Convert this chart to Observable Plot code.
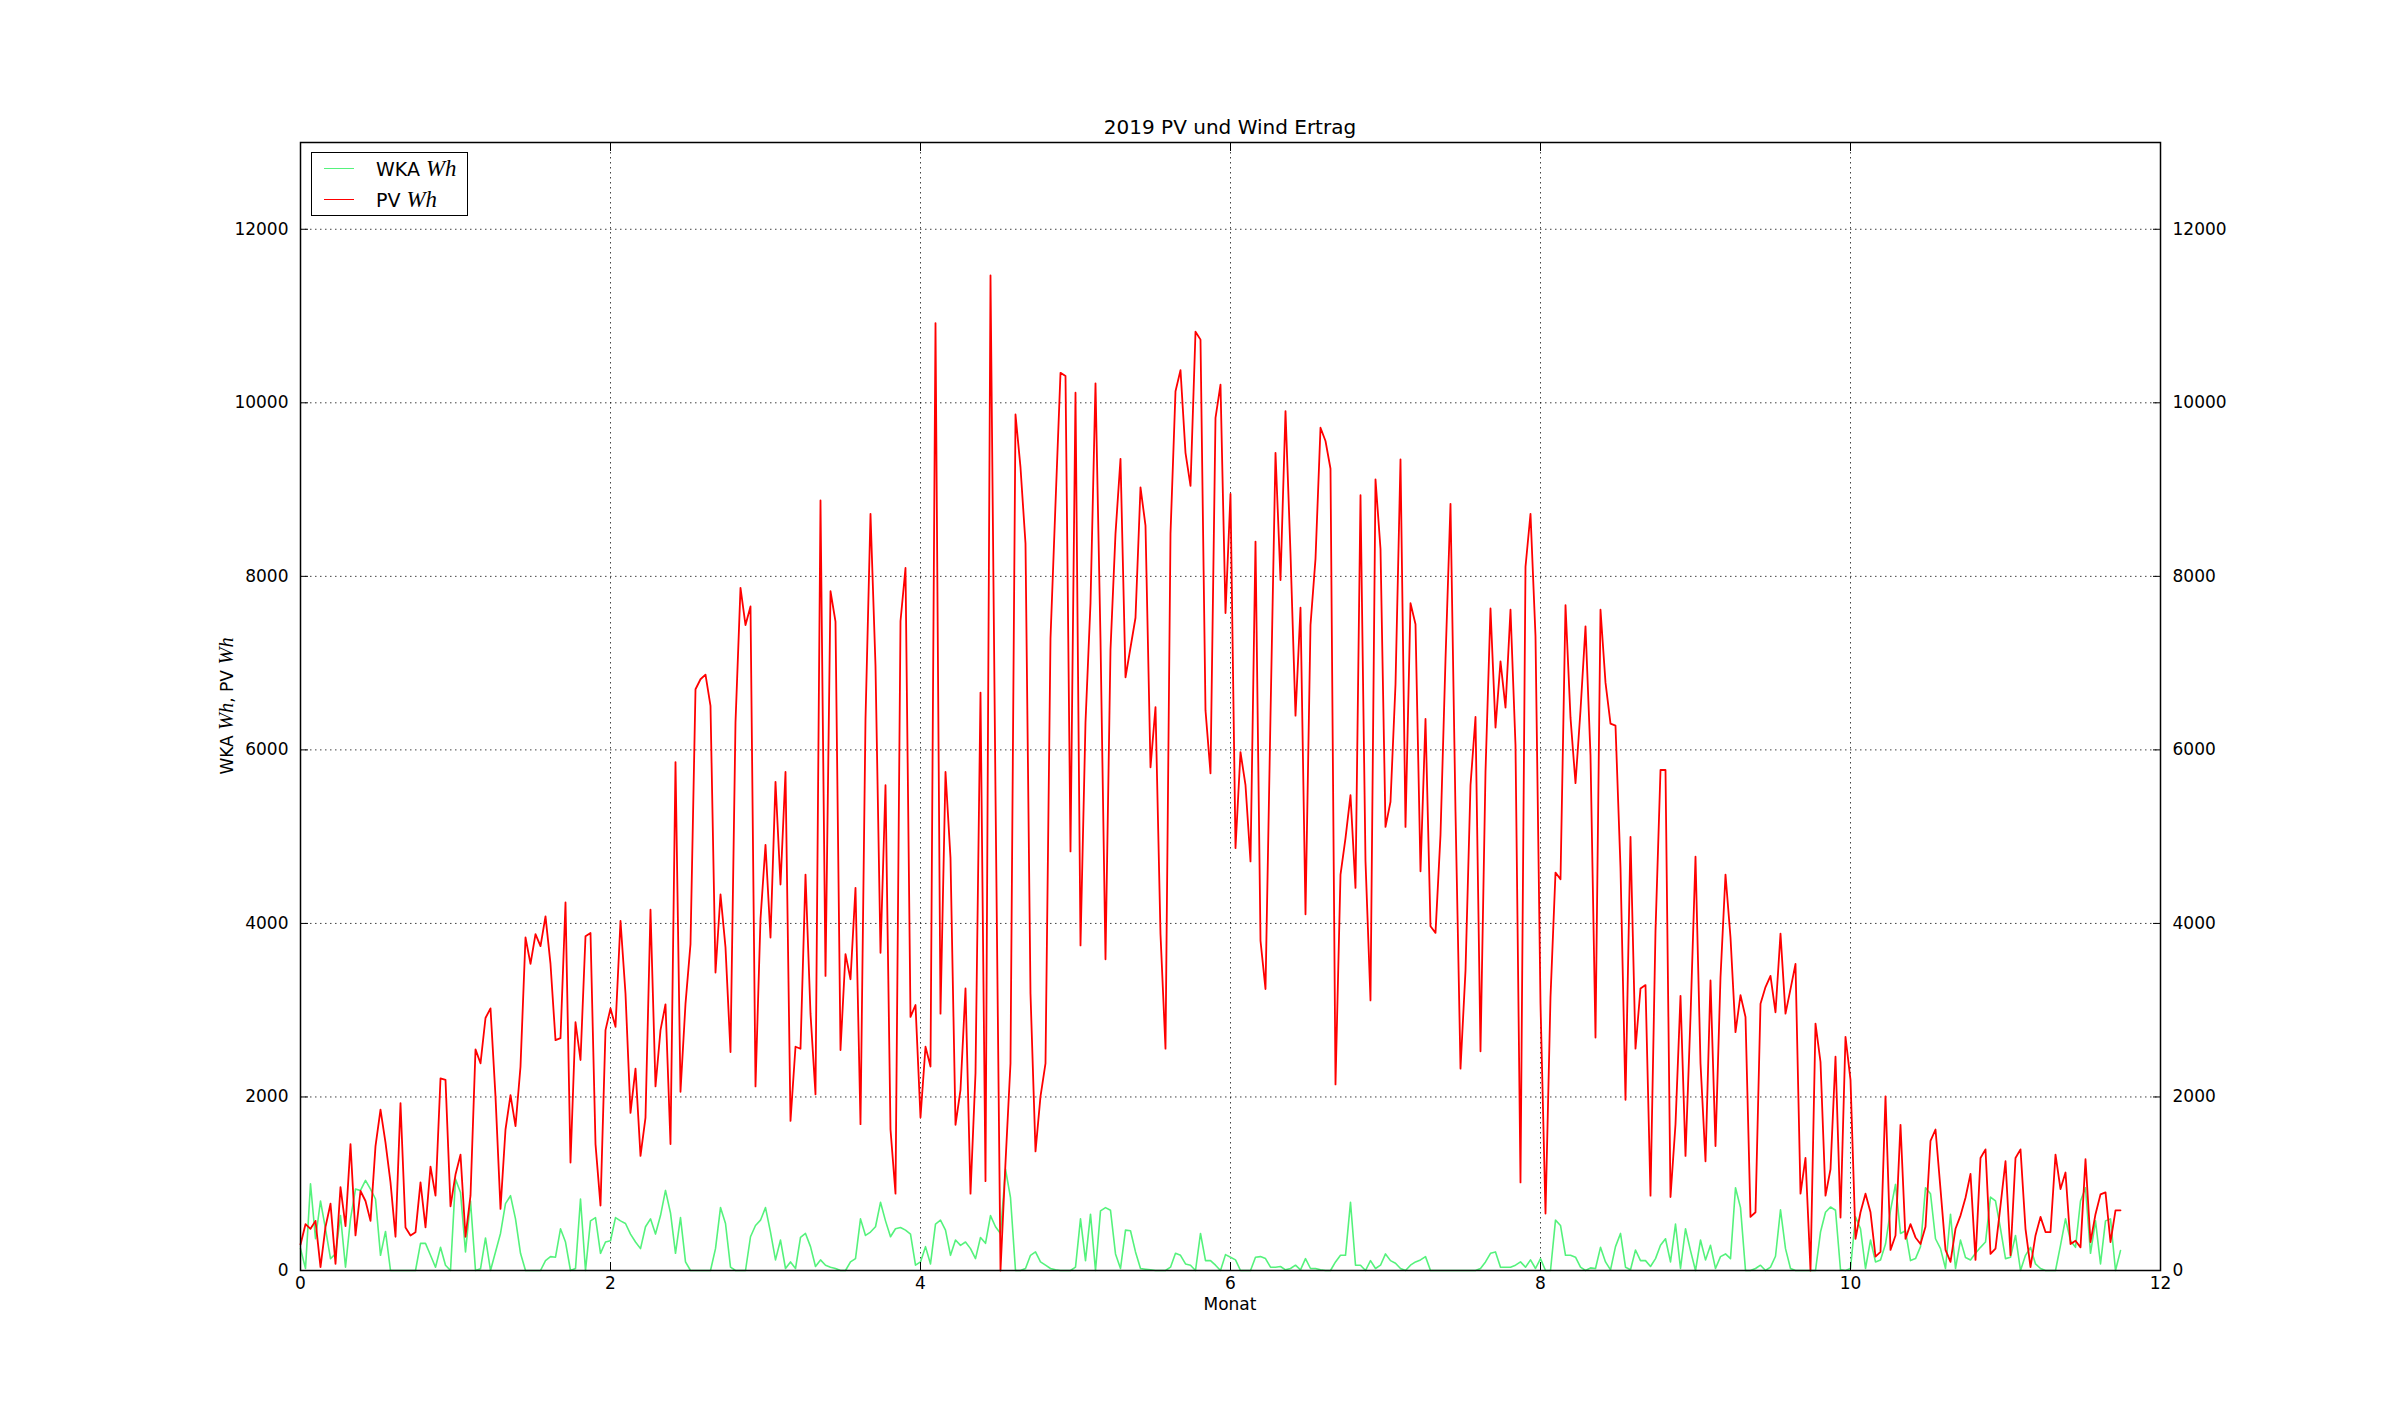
<!DOCTYPE html>
<html><head><meta charset="utf-8">
<script src="https://cdn.jsdelivr.net/npm/d3@7"></script>
<script src="https://cdn.jsdelivr.net/npm/@observablehq/plot@0.6"></script>
<style>
body{margin:0;background:#fff;font-family:"DejaVu Sans",sans-serif;color:#000;}
#wrap{position:relative;width:2400px;height:1411px;overflow:hidden;}
#wrap svg{position:absolute;left:0;top:0;}
.ov{position:absolute;white-space:nowrap;}
.m{font-family:"Liberation Serif","DejaVu Serif",serif;font-style:italic;font-size:1.2em;line-height:1;}
#legend{position:absolute;left:311px;top:152px;width:155px;height:62px;border:1.5px solid #000;background:#fff;}
.lrow{position:absolute;left:0;height:24px;line-height:24px;font-size:19px;}
.lline{position:absolute;left:12px;width:30px;top:11px;height:0;}
.ltext{position:absolute;left:64px;top:0;}
</style></head><body>
<div id="wrap"></div>
<script>
// ---- data (daily values, 2019) ----
const title = "2019 PV und Wind Ertrag";
const xLabel = "Monat";
const seriesNames = ["WKA", "PV"];
const unit = "Wh";
const daysPerMonthUnit = 31;
const xTicks = [0, 2, 4, 6, 8, 10, 12];
const yTicks = [0, 2000, 4000, 6000, 8000, 10000, 12000];

const pv = [
300,534,480,572,40,503,770,76,961,511,
1457,404,916,801,572,1434,1854,1473,1015,389,
1930,496,404,442,1015,496,1198,862,2213,2197,
740,1106,1335,389,862,2548,2388,2910,3021,2007,
710,1625,2022,1663,2350,3838,3533,3876,3739,4082,
3533,2655,2678,4242,1244,2861,2426,3853,3891,1457,
748,2770,3021,2808,4029,3189,1816,2327,1320,1763,
4158,2121,2770,3068,1457,5860,2060,3075,3762,6699,
6814,6867,6508,3434,4334,3723,2518,6318,7867,7439,
7653,2121,4052,4906,3838,5631,4448,5745,1724,2579,
2556,4563,2960,2030,8874,3395,7828,7477,2541,3647,
3357,4410,1686,6356,8721,6966,3662,5593,1625,885,
7485,8096,2922,3060,1763,2579,2350,10919,2960,5745,
4753,1679,2083,3250,885,2274,6661,1030,11468,5500,
0,1244,2388,9865,9255,8378,3189,1373,2007,2388,
7287,8836,10346,10308,4830,10117,3746,6318,7691,10224,
7271,3586,7157,8492,9354,6836,7180,7523,9026,8584,
5799,6493,3876,2556,8492,10133,10377,9423,9042,10819,
10728,6455,5730,9827,10209,7577,8950,4868,5974,5593,
4715,8401,3800,3243,6394,9423,7958,9904,8263,6394,
7638,4105,7439,8202,9713,9560,9240,2144,4563,4982,
5478,4410,8935,4715,3113,9118,8317,5112,5402,6753,
9347,5112,7691,7447,4601,6356,3968,3891,5021,7042,
8836,5288,2327,3456,5593,6379,2526,5745,7630,6257,
7020,6486,7615,6051,1015,8111,8721,7310,3075,656,
3151,4586,4509,7668,6371,5616,6455,7424,5936,2685,
7615,6775,6302,6279,4639,1968,4998,2556,3250,3289,
862,3914,5768,5768,847,1686,3166,1320,2922,4769,
2388,1259,3342,1434,3380,4563,3838,2747,3174,2922,
618,671,3075,3266,3395,2976,3883,2960,3243,3533,
885,1297,0,2846,2403,862,1167,2464,610,2693,
2197,366,671,885,671,160,214,2007,237,404,
1679,366,534,381,305,504,1495,1625,938,237,
99,481,633,839,1114,122,1297,1396,191,252,
748,1259,175,1297,1396,481,38,404,618,443,
443,1335,938,1129,305,343,267,1282,328,649,
877,900,328,694,694
];

const wka = [
252,23,1000,366,801,480,137,191,633,38,
595,938,923,1038,938,824,175,450,0,0,
0,0,0,0,313,313,175,38,267,61,
0,1053,900,214,801,0,20,375,0,214,
427,771,862,595,198,0,0,0,0,114,
160,153,481,328,0,23,824,0,572,610,
198,328,343,610,572,542,420,328,252,504,
595,420,633,923,663,198,610,99,0,0,
0,0,0,252,725,542,38,0,0,0,
389,519,580,725,443,122,351,23,99,23,
381,427,275,46,122,61,38,23,0,0,
99,137,595,404,443,504,786,572,389,481,
496,465,420,61,99,275,76,534,580,465,
175,351,290,328,252,137,381,313,633,504,
427,1167,839,0,0,23,175,214,99,61,
23,8,0,0,0,38,595,114,649,0,
687,725,694,191,23,465,458,214,23,15,
8,0,0,0,38,198,175,76,61,0,
427,114,114,61,0,183,153,122,0,0,
0,153,160,137,38,38,46,8,23,61,
8,137,23,23,8,0,0,99,175,175,
786,61,61,0,114,23,61,191,114,84,
23,0,61,99,122,160,0,0,0,0,
0,0,0,0,0,0,23,99,198,214,
38,38,38,61,99,38,122,23,137,0,
0,580,519,175,175,153,38,0,30,23,
267,99,8,275,427,38,8,236,114,114,
46,137,290,366,99,534,23,481,229,0,
351,122,290,23,160,191,137,954,725,0,
0,23,61,0,38,164,700,252,23,0,
0,0,0,0,443,671,732,694,8,0,
23,618,481,23,351,99,122,305,694,992,
427,458,114,137,275,954,885,366,252,23,
649,23,350,150,122,198,267,328,847,801,
481,137,153,404,0,175,267,76,23,0,
0,0,290,595,343,267,801,954,198,572,
76,572,595,0,229
];

const colors = {WKA: "#55f27c", PV: "#ff0000"};

// ---- build ----
const rows = pv.map((v, i) => ({x: i / daysPerMonthUnit, pv: v, wka: wka[i]}));
const fmt = d => String(d);
const gridStyle = {stroke: "#000", strokeOpacity: 0.75, strokeDasharray: "1.5,3.5", strokeWidth: 1};

const chart = Plot.plot({
  width: 2400, height: 1411,
  marginLeft: 300, marginRight: 240, marginTop: 142, marginBottom: 141,
  style: {fontFamily: "DejaVu Sans", fontSize: "17px", background: "transparent", color: "#000"},
  x: {domain: [0, 12]},
  y: {domain: [0, 13000]},
  marks: [
    Plot.gridX(xTicks, gridStyle),
    Plot.gridY(yTicks, gridStyle),
    Plot.lineY(rows, {x: "x", y: "wka", stroke: colors.WKA, strokeWidth: 1.6}),
    Plot.lineY(rows, {x: "x", y: "pv", stroke: colors.PV, strokeWidth: 1.8}),
    Plot.frame({stroke: "#000", strokeWidth: 1.5}),
    Plot.axisX(xTicks, {anchor: "bottom", tickSize: 0, tickPadding: 6, tickFormat: fmt, label: null}),
    Plot.axisX(xTicks, {anchor: "bottom", tickSize: -8, tickFormat: () => "", label: null}),
    Plot.axisX(xTicks, {anchor: "top", tickSize: -8, tickFormat: () => "", label: null}),
    Plot.axisY(yTicks, {anchor: "left", tickSize: 0, tickPadding: 12, tickFormat: fmt, label: null}),
    Plot.axisY(yTicks, {anchor: "left", tickSize: -8, tickFormat: () => "", label: null}),
    Plot.axisY(yTicks, {anchor: "right", tickSize: 0, tickPadding: 12, tickFormat: fmt, label: null}),
    Plot.axisY(yTicks, {anchor: "right", tickSize: -8, tickFormat: () => "", label: null})
  ]
});

const wrap = document.getElementById("wrap");
wrap.appendChild(chart);

function addDiv(html, css) {
  const d = document.createElement("div");
  d.className = "ov";
  d.innerHTML = html;
  Object.assign(d.style, css);
  wrap.appendChild(d);
  return d;
}
addDiv(title, {left: "1230px", top: "115px", transform: "translateX(-50%)", fontSize: "20px", lineHeight: "24px"});
addDiv(xLabel, {left: "1230px", top: "1294px", transform: "translateX(-50%)", fontSize: "17px", lineHeight: "20px"});
addDiv(`${seriesNames[0]} <span class="m">${unit}</span>, ${seriesNames[1]} <span class="m">${unit}</span>`,
  {left: "226px", top: "706px", transform: "translate(-50%,-50%) rotate(-90deg)", fontSize: "17px", lineHeight: "20px"});

const lg = document.createElement("div");
lg.id = "legend";
seriesNames.forEach((name, k) => {
  const r = document.createElement("div");
  r.className = "lrow";
  r.style.top = (k === 0 ? 4 : 35) + "px";
  r.style.width = "100%";
  r.innerHTML = `<div class="lline" style="border-top:1.5px solid ${colors[name]}"></div><div class="ltext">${name} <span class="m">${unit}</span></div>`;
  lg.appendChild(r);
});
wrap.appendChild(lg);
</script>
</body></html>
